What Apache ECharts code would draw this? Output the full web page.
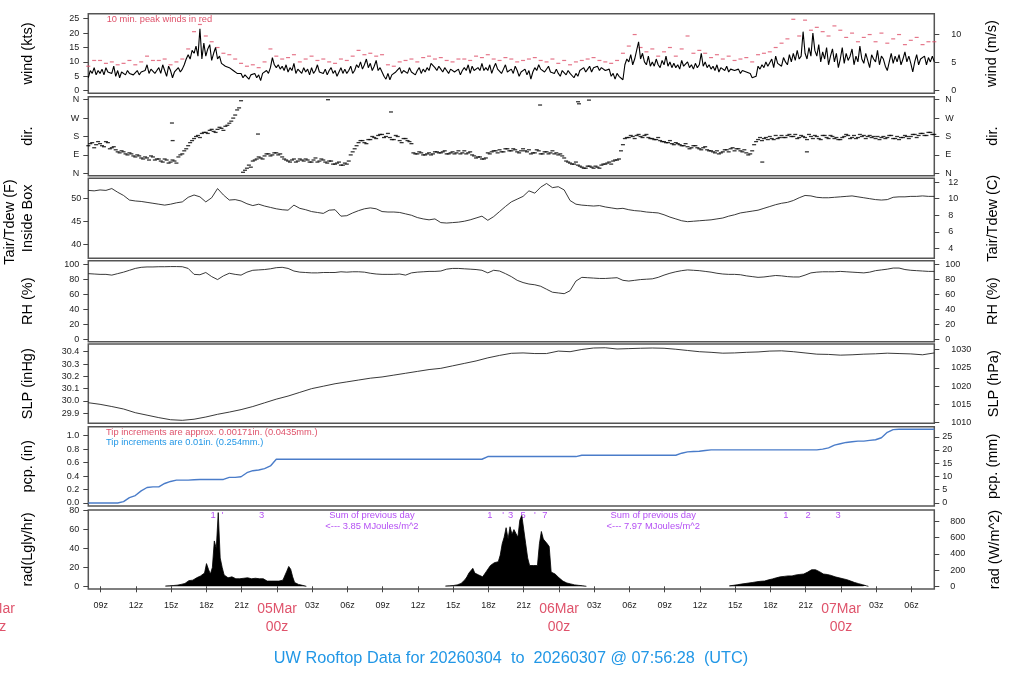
<!DOCTYPE html>
<html><head><meta charset="utf-8">
<script src="https://cdn.jsdelivr.net/npm/echarts@6/dist/echarts.min.js"></script>
<style>html,body{margin:0;padding:0;background:#fff}#c{width:1024px;height:700px}</style>
</head><body><div id="c"></div>
<script>
// ---------------- DATA ----------------
// time in hours since 2026-03-04 00z; series start 07:56:28 and run 72 h
const startHour = 7 + 56/60 + 28/3600;
const xTickHours = [9,12,15,18,21,24,27,30,33,36,39,42,45,48,51,54,57,60,63,66,69,72,75,78];

// wind speed (kts), 10-minute steps
const windKts = [
4.5,7,6,8,5.5,7, 6,7.5,5.5,8,6.5,7, 6,8.5,5,7,4.5,6.5, 6,5.5,7,6,6.5,5.5,
6,7,5.5,6.5,6,7, 9,6,7.5,8,6,7, 8,6,9,7,5,8.5, 7,4.5,6.5,7,8,6.5,
7.5,9,11,12.5,11,14, 13,15.5,12,21.5,11,16.5, 12,14.5,16,10.5,13,15, 11,12,9.5,10,8.5,9,
8,8.5,7,7.5,6,5.5, 6,4.5,5.5,6,4,5.5, 5,6,4.5,5.5,3.5,6, 6.5,7,6,8,11.5,9,
8,9,7.5,8.5,7,9, 6.5,8,7,9.5,6,7.5, 7,6,8,6.5,7.5,5.5, 8,6,7,9,6.5,7,
6,7.5,5.5,7,8,6, 7,5,6.5,8,6,7.5, 6,7,8.5,6,7,9, 8,10,7.5,9,11,8,
9.5,7,8.5,10.5,7,8, 6.5,5,4,6,3.8,5.5, 5,6.5,7,8,6,7, 7.5,6,8,6.5,7,5.5,
7,8,6,7.5,6.5,8, 7,9.5,10,8,7,8.5, 7.5,6.5,8,7,6,7.5, 8,6.5,7,7.5,5.5,7,
8,7,9,6,8.5,7, 6.5,8,7,9.5,7,8, 7,9,6,8,9.5,7.5, 8,6,7.5,9,6.5,7,
7.5,6,8.5,7,5,6.5, 6,7.5,5.5,7,4,6.5, 8,7,9,7.5,8,6.5, 7,8.5,6.5,7,6,7.5,
6,5,7,6.5,5.5,7, 6,5.5,4.5,6,5,7, 7,8,6.5,7.5,8.5,6.5, 8,7.5,8.5,7,8,7.5,
7,6.5,7.5,5,6,4, 6,5,4.5,3.8,9,11, 10,12.5,9,11,14,17, 11,13,10,9,12,8.5,
10,8.5,11,9,8,10.5, 9,12,8.5,10,8,9.5, 8,9,7.5,10.5,8.5,9, 10,8,9,7.5,9.5,8,
9,13,8.5,10,8,9, 7.5,8.5,7,9,6.5,8, 8,7,8.5,6.5,7.5,7, 7,6.5,7.5,6,7,6.5,
6.5,7,6,4.5,4,5, 8.5,7.5,9,8,10,8.5, 9,11,8,12,9.5,10, 8.5,11.5,10,9,12.5,10,
13,10.5,14,11,12,20.5, 13,11,15,12,20,14, 12,16,10,13.5,11,15, 9,12,14.5,10,13,8,
11,15,9.5,13,10.5,12, 14.5,9,12,10,15.5,11, 9.5,13,10.5,8,12.5,11, 10,14,9,12,11,8.5,
7,10,13,9.5,12,10, 12.5,9,11,13.5,10,12, 9.5,6.5,10,12.5,9,11, 10.5,12,9,11.5,10,12,
10];

// 10-min peak winds (kts), plotted every 30 minutes
const peakKts = [
8.5,10.5, 10.5,9.5, 10,9, 9.5,10.5, 9,10, 12,10.5, 10.5,11, 9,10,
11,14.5, 20.5,23, 19,17, 15,13, 12.5,11, 9.5,8.5, 9,8, 10,14.5,
12,11, 11.5,12.5, 10,11, 12,10.5, 11,10, 9.5,11, 10.5,12, 14,12.5,
13,12, 12.5,9, 8.5,10, 10.5,11, 10,11.5, 12,11, 11.5,10.5, 10,11,
11,10.5, 12,11.5, 12.5,11, 10.5,11.5, 11,10, 10.5,11, 11.5,10.5, 10,11,
9.5,10.5, 9,10, 10.5,11, 11.5,10.5, 10,9.5, 10.5,13, 15.5,19.5, 15,13.5,
14.5,12, 13.5,15, 12,14.5, 19,13, 14,13, 11.5,12.5, 11,12, 10.5,11,
11.5,10, 12.5,13, 13.5,15, 16.5,18, 24.8,19, 24.5,21, 22,20.5, 19,22.5,
21,18.5, 20,17, 18.5,19.5, 17,20, 16.5,18, 19.5,16, 17.5,18.5, 16,17,
17];

// wind direction (deg), 20-minute steps
const dirDeg = [
135,150,140, 145,130,150, 125,115,100, 105,90,95, 80,85,70, 75,85,65, 70,55,65, 55,60,80,
95,120,150, 170,185,195, 200,210,205, 215,220,230, 245,270,310, 355,15,40, 60,70,75, 85,95,90,
100,95,70, 60,65,55, 70,60,65, 55,75,60, 65,50,60, 45,55,40, 45,90,120, 150,160,145,
165,175,185, 190,180,175, 165,180,150, 170,155,100, 95,100,90, 100,95,105, 100,110,95, 105,100,95,
110,100,90, 75,80,70, 100,105,110, 115,105,120, 110,115,100, 120,105,95, 100,110,95, 105,100,95,
90,85,60, 50,45,40, 30,25,35, 25,30,40, 45,55,60, 65,110,170, 175,180,185, 180,185,175,
170,165,160, 155,150,145, 150,140,135, 130,125,135, 120,125,115, 110,100,95, 105,115,120, 110,120,105,
100,95,140, 165,160,175, 180,165,170, 185,175,190, 180,170,185, 175,190,170, 180,165,185, 170,180,175,
165,180,185, 175,170,190, 185,180,175, 170,165,180, 175,185,170, 165,175,180, 180,190,185, 195,185,200,
190];
// wind direction (deg), the readings 10 minutes after each of the above
const dirDegB = [
145,125,155, 135,155,120, 130,105,110, 95,100,85, 90,75,80, 65,80,70, 60,70,50, 65,50,90,
110,135,160, 180,175,200, 195,215,200, 225,210,235, 255,285,320, 5,25,30, 65,80,70, 95,85,100,
90,80,65, 55,70,60, 65,70,55, 65,55,70, 55,60,45, 50,40,50, 60,105,135, 160,150,165,
180,170,190, 175,195,165, 185,160,170, 160,145,95, 105,90,95, 90,105,100, 105,95,100, 95,110,100,
95,105,85, 80,70,75, 95,110,100, 105,120,110, 120,105,110, 110,115,100, 115,95,105, 95,110,100,
95,75,55, 45,55,35, 25,35,30, 35,25,45, 50,45,65, 70,140,175, 185,170,190, 175,190,170,
165,175,155, 150,160,140, 145,135,145, 120,135,125, 115,130,110, 105,110,100, 115,105,125, 120,110,115,
90,110,155, 175,170,165, 170,185,175, 175,185,180, 190,175,180, 165,180,185, 170,185,175, 185,170,165,
175,190,170, 185,175,180, 170,185,180, 180,175,170, 185,170,180, 175,185,170, 190,175,195, 185,200,190];
// isolated direction readings
const dirOutHours = [15.06, 15.12, 22.38, 28.34, 33.70, 46.39, 49.62, 49.70, 50.55, 65.30, 69.10];
const dirOutDeg   = [246, 160, 192, 360, 300, 334, 350, 340, 358, 55, 105];

// temperature (F), 30-minute steps
const tempF = [
51.8,51.7,51.9,51.8,52.2,51.4,50.7,49.7,49.5,49.4,
49.2,49.0,48.8,48.6,48.8,49.1,49.3,50.3,50.8,50.4,
49.3,50.2,52.2,50.8,49.7,49.8,49.5,48.9,48.5,48.8,
48.4,48.1,47.8,47.6,47.5,48.6,47.9,47.6,47.2,47.0,
46.8,47.5,47.6,46.2,46.3,46.9,47.4,47.8,48.0,47.8,
47.2,47.1,47.1,47.0,46.7,46.4,45.9,45.6,45.4,45.6,
44.8,44.7,44.8,44.9,45.1,45.4,45.8,46.2,45.3,46.1,
47.2,48.3,49.3,49.9,50.5,51.7,51.2,52.5,53.3,52.4,
52.6,51.9,49.6,48.8,48.6,48.5,48.4,48.5,48.2,48.0,
47.8,47.9,47.6,47.4,47.3,47.1,47.0,46.9,46.5,46.0,
45.6,45.2,45.0,45.1,45.2,45.3,45.4,45.6,45.8,46.2,
46.5,46.9,47.1,47.3,47.5,47.9,48.3,48.7,49.0,49.2,
49.6,50.2,50.7,50.6,50.3,50.2,50.2,50.3,50.4,50.5,
50.6,50.4,50.2,50.0,49.8,49.7,49.8,50.3,50.4,50.4,
50.5,50.5,50.6,50.5,50.5];

// relative humidity (%), 30-minute steps
const rhPct = [
88,87.5,87,87,86,88,90,92.5,95,96.5,97,
97,97.3,97.3,97.5,97.5,
97.3,95,87,86.5,89.5,
84,80,85,88.5,87,86,90,92.5,93,93.5,
94.5,96,96.5,95,91.5,90,89.5,89,89,89.5,
89.5,89.5,90.5,90,90.5,90.5,90,88.5,87.5,87,
87,87,87.5,86,89,90,90.5,91,91,91.5,
94,95,95,94.5,94,93.5,92.5,89,92.5,91.5,
88,84,79,76,74,73,71,67,63,62,
61,65,78,83,82.5,82,81.5,81.5,82,82.5,
79,78,79,80,80.5,81,83,86,88.5,90.5,
92,93,92.5,92,91,90,88.5,87.5,87,87,
86.5,85,84,83,83.5,84.5,85.5,85,84,83.5,
83.5,86,89,90,90.5,90.5,90.5,91,90.5,90,
89.5,89,90,92,93,94,95.5,95.5,93.5,92.5,
92,91.5,91,91];

// sea level pressure (inHg), hourly
const slpInHg = [
29.986,29.973,29.955,29.935,29.905,29.885,29.865,29.848,29.843,29.852,
29.870,29.892,29.910,29.930,29.955,29.985,30.015,30.040,30.070,30.100,
30.120,30.140,30.155,30.170,30.185,30.195,30.210,30.225,30.240,30.255,
30.265,30.285,30.305,30.325,30.350,30.370,30.387,30.390,30.385,30.385,
30.405,30.400,30.418,30.430,30.432,30.422,30.425,30.428,30.430,30.428,
30.420,30.410,30.400,30.395,30.388,30.390,30.395,30.398,30.405,30.407,
30.400,30.390,30.380,30.378,30.372,30.375,30.380,30.383,30.388,30.385,
30.382,30.375,30.390];

// accumulated precipitation (in), 30-minute steps
const pcpIn = [
0,0,0,0,0,0,0.02,0.08,0.11,0.18,
0.23,0.24,0.24,0.29,0.32,0.34,0.34,0.34,0.345,0.35,
0.35,0.35,0.35,0.35,0.38,0.38,0.39,0.45,0.48,0.49,
0.51,0.55,0.65,0.65,0.65,0.65,0.65,0.65,0.65,0.65,
0.65,0.65,0.65,0.65,0.65,0.65,0.65,0.65,0.65,0.65,
0.65,0.65,0.65,0.65,0.65,0.65,0.65,0.65,0.65,0.65,
0.65,0.65,0.65,0.65,0.65,0.65,0.65,0.65,0.69,0.69,
0.69,0.69,0.69,0.69,0.69,0.69,0.69,0.69,0.69,0.69,
0.69,0.69,0.69,0.69,0.71,0.71,0.71,0.71,0.71,0.71,
0.71,0.71,0.71,0.71,0.71,0.71,0.71,0.71,0.71,0.71,
0.71,0.74,0.76,0.765,0.77,0.78,0.79,0.79,0.79,0.79,
0.79,0.79,0.79,0.79,0.79,0.79,0.79,0.79,0.79,0.79,
0.79,0.79,0.79,0.79,0.79,0.80,0.82,0.86,0.88,0.90,
0.91,0.92,0.92,0.93,0.94,0.97,1.05,1.09,1.095,1.095,
1.095,1.095,1.095,1.095,1.095];

// solar radiation (Langley/hr), 10-minute steps over each daylight period
const radDay1Start = 14.5;
const radDay1 = [
0.3,0.4,0.5,0.6,0.8,1.0,1.2,1.5,2.0,2.5,
3.0,4.5,6.0,7.0,6.5,8.0,9.0,8.5,11,9.5,
14,24,18,13,20,48,40,78,30,20,
12,10,9,11,10,9,8,7,8,9,
8.5,8,9,8.5,8,9,8.5,9,8,7,
8,6,5.5,5,5.5,5,5.5,6,5.5,6,
6.5,8,16,21,18,10,4,3,2,1.5,
1,0.5,0];
const radDay2Start = 38 + 1/3;
const radDay2 = [
0.3,0.4,0.5,0.6,0.8,1,1.5,2,3,5,
7,10,14,16,19,14,13,12,13,10,
12,16,19,22,24,25,27,26,33,45,
52,62,50,63,55,60,56,52,70,75,
60,45,30,22,21,22,20,22,45,58,
50,48,45,42,15,14,13,11,9,7,
5.5,4.5,3.5,3,2.5,2,1.5,1.2,1,0.8,
0.6,0.4,0];
const radDay3Start = 62.5;
const radDay3 = [
0.5,0.7,1.0,1.3,1.6,2.0,2.3,2.6,2.9,3.2,
3.5,3.8,4.1,4.4,4.8,5.0,5.3,5.8,5.6,6.2,
6.8,7.2,7.8,8.4,9.0,9.6,10,10.3,10.5,10.4,
11,11.2,11,11.6,12,12.3,12.6,12.4,13,14,
15,16,17.5,17,17.5,16,15.5,14.5,13,12.5,
12.5,12,11.5,11,10,9.5,9,8.5,8,7.5,
7,6.5,5.5,5,4,3.5,2.8,2.2,1.7,1.2,
0.5,0];
const radNoteHours  = [18.57, 19.38, 22.69, 42.12, 43.25, 43.88, 44.95, 45.95, 46.80, 67.31, 69.21, 71.76];
const radNoteLabels = ['1', "'", '3', '1', "'", '3', '5', "'", '7', '1', '2', '3'];
const radSumHours  = [32.08, 56.02];
const radSumLabels = ['Sum of previous day\n<--- 3.85 MJoules/m^2', 'Sum of previous day\n<--- 7.97 MJoules/m^2'];

// tick labels
const windTicksKts = [0,5,10,15,20,25];
const windTicksMs  = [0,5,10];
const dirTicks = [0,90,180,270,360];
const dirTickLabels = ['N','E','S','W','N'];
const tempTicksF = [40,45,50];
const tempTicksC = [4,6,8,10,12];
const rhTicks = [0,20,40,60,80,100];
const slpTicksInHg = [29.9,30.0,30.1,30.2,30.3,30.4];
const slpTicksHpa = [1010,1015,1020,1025,1030];
const pcpTicksIn = [0,0.2,0.4,0.6,0.8,1.0];
const pcpTicksMm = [0,5,10,15,20,25];
const radTicksLy = [0,20,40,60,80];
const radTicksW = [0,200,400,600,800];

// ---------------- CHART ----------------
const FONT = "'Liberation Sans', Arial, Helvetica, sans-serif";
const RED = '#DF536B', BLUE = '#2297E6', PURPLE = '#A020F0';
const KT2MS = 0.514444, INHG2HPA = 33.8639, IN2MM = 25.4, LY2W = 11.63;
const endHour = startHour + 72;

const gridBoxes = [[13.7,79.6],[96.7,79],[178.3,80],[260.7,81],[344,79.3],[426.7,79.3],[510,79]];
const grids = gridBoxes.map(g => ({left:88.3, width:846, top:g[0], height:g[1], show:true,
  borderColor:'#555', borderWidth:1.5, backgroundColor:'transparent', containLabel:false, outerBoundsMode:'none'}));

function dayLabel(v){
  const hv = Math.round(v), h = hv % 24;
  if (h === 0) { const d = 4 + hv/24; return '{d|' + String(d).padStart(2,'0') + 'Mar}\n{d|00z}'; }
  return '{n|' + String(h).padStart(2,'0') + 'z}';
}
const xAxes = grids.map((g,i) => ({
  type:'value', gridIndex:i, min:startHour, max:endHour,
  axisLine:{show:false}, splitLine:{show:false},
  axisTick: i===6 ? {show:true, customValues:xTickHours, length:6, lineStyle:{color:'#444', width:1}} : {show:false},
  axisLabel: i===6 ? {show:true, customValues:xTickHours, margin:11, formatter:dayLabel,
    rich:{n:{fontSize:9, lineHeight:12, color:'#222', fontFamily:FONT},
          d:{fontSize:14, lineHeight:18, color:RED, fontFamily:FONT}}} : {show:false}
}));

function yAx(g, pos, min, max, ticks, margin, fmt){
  return {type:'value', gridIndex:g, position:pos, min, max,
    axisLine:{show:false}, splitLine:{show:false},
    axisTick:{show:true, customValues:ticks, length:5, lineStyle:{color:'#444', width:1}},
    axisLabel:{show:true, customValues:ticks, margin, fontSize:9, color:'#222', fontFamily:FONT, formatter:fmt}};
}
const W = [-0.9, 26.74], D = [-11.7, 374.7], T = [37.04, 54.43], R = [-3.6, 105.4],
      P = [29.819, 30.4625], Q = [-0.045, 1.134], S = [-2.86, 80.74];
const intFmt = v => String(Math.round(v));
const dirFmt = v => dirTickLabels[dirTicks.indexOf(Math.round(v))] || '';
const yAxes = [
  yAx(0,'left', W[0], W[1], windTicksKts, 9, intFmt),
  yAx(0,'right', W[0]*KT2MS, W[1]*KT2MS, windTicksMs, 17, intFmt),
  yAx(1,'left', D[0], D[1], dirTicks, 9, dirFmt),
  yAx(1,'right', D[0], D[1], dirTicks, 11, dirFmt),
  yAx(2,'left', T[0], T[1], tempTicksF, 7, intFmt),
  yAx(2,'right', (T[0]-32)/1.8, (T[1]-32)/1.8, tempTicksC, 14, intFmt),
  yAx(3,'left', R[0], R[1], rhTicks, 9, intFmt),
  yAx(3,'right', R[0], R[1], rhTicks, 11, intFmt),
  yAx(4,'left', P[0], P[1], slpTicksInHg, 9, v => v.toFixed(1)),
  yAx(4,'right', P[0]*INHG2HPA, P[1]*INHG2HPA, slpTicksHpa, 17, intFmt),
  yAx(5,'left', Q[0], Q[1], pcpTicksIn, 9, v => v.toFixed(1)),
  yAx(5,'right', Q[0]*IN2MM, Q[1]*IN2MM, pcpTicksMm, 8, intFmt),
  yAx(6,'left', S[0], S[1], radTicksLy, 9, intFmt),
  yAx(6,'right', S[0]*LY2W, S[1]*LY2W, radTicksW, 16, intFmt)
];

const series = [];
const lineS = (xi, yi, data, color, width) => ({type:'line', xAxisIndex:xi, yAxisIndex:yi, data, symbol:'none',
  lineStyle:{color, width}, silent:true, animation:false});
series.push(lineS(0,0, windKts.map((v,i)=>[startHour+i/6, v]), '#000', 1.1));
series.push({type:'scatter', xAxisIndex:0, yAxisIndex:0, data: peakKts.map((v,i)=>[startHour+i/2, v]),
  symbol:'rect', symbolSize:[4,1.2], itemStyle:{color:RED}, silent:true, animation:false});
series.push({type:'scatter', xAxisIndex:1, yAxisIndex:2,
  data: dirDeg.map((v,i)=>[startHour+i/3, v])
    .concat(dirDegB.map((v,i)=>[startHour+1/6+i/3, v]))
    .concat(dirOutHours.map((h,i)=>[h, dirOutDeg[i]])),
  symbol:'rect', symbolSize:[4,1.3], itemStyle:{color:'#000'}, silent:true, animation:false});
series.push(lineS(2,4, tempF.map((v,i)=>[startHour+i/2, v]), '#222', 0.9));
series.push(lineS(3,6, rhPct.map((v,i)=>[startHour+i/2, v]), '#222', 0.9));
series.push(lineS(4,8, slpInHg.map((v,i)=>[startHour+i, v]), '#222', 0.9));
series.push(lineS(5,10, pcpIn.map((v,i)=>[startHour+i/2, v]), '#4a7cc9', 1.4));
[[radDay1Start, radDay1],[radDay2Start, radDay2],[radDay3Start, radDay3]].forEach(([s0, arr]) => {
  const s = lineS(6,12, arr.map((v,k)=>[s0+k/6, v]), '#000', 0.8);
  s.areaStyle = {color:'#000', opacity:1};
  series.push(s);
});
const noteLabel = {show:true, position:'inside', formatter:'{b}', color:PURPLE, fontSize:9.4, lineHeight:11, fontFamily:FONT};
series.push({type:'scatter', xAxisIndex:6, yAxisIndex:12, symbol:'circle', symbolSize:1,
  itemStyle:{color:'transparent'}, label:noteLabel, silent:true, animation:false,
  data: radNoteHours.map((h,i)=>({name:radNoteLabels[i], value:[h, 75.4]}))
    .concat(radSumHours.map((h,i)=>({name:radSumLabels[i], value:[h, 69.6]})))});

const chart = echarts.init(document.getElementById('c'), null, {renderer:'canvas'});
chart.setOption({animation:false, backgroundColor:'#fff', grid:grids, xAxis:xAxes, yAxis:yAxes, series});

function txt(x, y, s, size, color, rot, align){
  return {type:'text', x, y, rotation: rot || 0, silent:true, z:100,
    style:{text:s, fill:color || '#000', font: size + 'px ' + FONT,
      align: align || 'center', verticalAlign:'middle', textAlign: align || 'center', textVerticalAlign:'middle'}};
}
const V = Math.PI/2;
const x04 = chart.convertToPixel({xAxisIndex:6}, 0);
const graphics = [
  txt(28, 53.5, 'wind (kts)', 14.5, '#000', V),
  txt(28, 136.2, 'dir.', 14.5, '#000', V),
  txt(10, 222, 'Tair/Tdew (F)', 14.5, '#000', V),
  txt(27.5, 218.3, 'Inside Box', 14.5, '#000', V),
  txt(27.5, 301.2, 'RH (%)', 14.5, '#000', V),
  txt(27.5, 383.7, 'SLP (inHg)', 14.5, '#000', V),
  txt(27.5, 466.4, 'pcp. (in)', 14.5, '#000', V),
  txt(27.5, 549.5, 'rad(Lgly/hr)', 14.5, '#000', V),
  txt(992, 53.5, 'wind (m/s)', 14.5, '#000', V),
  txt(993, 136.2, 'dir.', 14.5, '#000', V),
  txt(993, 218.3, 'Tair/Tdew (C)', 14.5, '#000', V),
  txt(993, 301.2, 'RH (%)', 14.5, '#000', V),
  txt(994, 383.7, 'SLP (hPa)', 14.5, '#000', V),
  txt(993, 466.4, 'pcp. (mm)', 14.5, '#000', V),
  txt(995, 549.5, 'rad (W/m^2)', 14.5, '#000', V),
  txt(106.7, 19.7, '10 min. peak winds in red', 9.3, RED, 0, 'left'),
  txt(106, 432.7, 'Tip increments are approx. 0.00171in. (0.0435mm.)', 9.3, RED, 0, 'left'),
  txt(106, 442, 'Tip increments are 0.01in. (0.254mm.)', 9.3, BLUE, 0, 'left'),
  txt(x04, 609, '04Mar', 14, RED),
  txt(x04, 627, '00z', 14, RED),
  txt(511, 659, 'UW Rooftop Data for 20260304  to  20260307 @ 07:56:28  (UTC)', 16.3, BLUE)
];
chart.setOption({graphic: graphics});
</script></body></html>
